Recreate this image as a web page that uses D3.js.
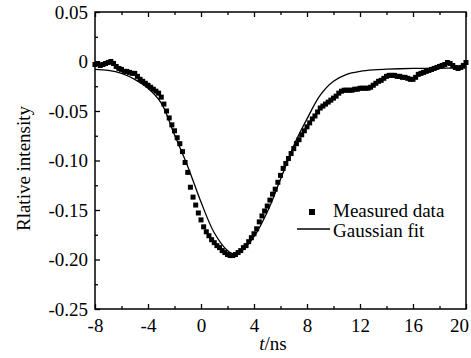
<!DOCTYPE html>
<html>
<head>
<meta charset="utf-8">
<script src="https://cdn.jsdelivr.net/npm/d3@7"></script>
<style>
  body { margin: 0; background: #fff; }
  svg text { font-family: "Liberation Serif", "Times New Roman", serif !important; fill: #000; }
</style>
</head>
<body>
<svg id="chart" width="471" height="358"></svg>
<script>
// sampling of the measured trace: every 0.2 ns starting at -8 ns
const tStart = -8;
const tStep = 0.2;
const measured = [
  -0.003, -0.002, -0.004, -0.003, -0.002, -0.001, 0.000, -0.002, -0.005, -0.007,
  -0.008, -0.010, -0.010, -0.011, -0.012, -0.012, -0.015, -0.018, -0.020, -0.022,
  -0.024, -0.026, -0.028, -0.030, -0.032, -0.036, -0.043, -0.050, -0.057, -0.064,
  -0.070, -0.077, -0.083, -0.091, -0.102, -0.112, -0.127, -0.137, -0.145, -0.153,
  -0.160, -0.167, -0.172, -0.176, -0.180, -0.183, -0.186, -0.188, -0.191, -0.193,
  -0.195, -0.196, -0.196, -0.195, -0.193, -0.191, -0.188, -0.186, -0.182, -0.178,
  -0.174, -0.169, -0.162, -0.156, -0.151, -0.146, -0.140, -0.134, -0.129, -0.122,
  -0.115, -0.108, -0.103, -0.098, -0.093, -0.088, -0.083, -0.079, -0.074, -0.070,
  -0.066, -0.062, -0.058, -0.055, -0.051, -0.047, -0.045, -0.043, -0.041, -0.039,
  -0.037, -0.035, -0.032, -0.030, -0.029, -0.029, -0.029, -0.029, -0.028, -0.028,
  -0.027, -0.027, -0.027, -0.027, -0.026, -0.024, -0.022, -0.020, -0.019, -0.017,
  -0.015, -0.014, -0.014, -0.014, -0.015, -0.015, -0.016, -0.016, -0.017, -0.018,
  -0.018, -0.016, -0.013, -0.012, -0.011, -0.010, -0.009, -0.008, -0.007, -0.006,
  -0.005, -0.004, -0.003, -0.001, -0.002, -0.004, -0.006, -0.007, -0.006, -0.004,
  -0.001
];

// Gaussian fit
const fitT = [-8, -7, -6, -5, -4, -3, -2, -1, 0, 1, 2, 2.6, 3, 4, 5, 6, 7, 8, 9, 10,
  11, 12, 13, 14, 15, 16, 17, 18, 19, 20];
const fitV = [-0.008, -0.009, -0.012, -0.018, -0.027, -0.042, -0.074, -0.106, -0.142,
  -0.173, -0.191, -0.195, -0.192, -0.177, -0.152, -0.119, -0.085, -0.058, -0.034,
  -0.020, -0.013, -0.010, -0.0085, -0.0078, -0.0073, -0.007, -0.007, -0.0068,
  -0.0067, -0.0066];

const xTicks = [-8, -4, 0, 4, 8, 12, 16, 20];
const xTickLabels = ["-8", "-4", "0", "4", "8", "12", "16", "20"];
const yTicks = [0.05, 0, -0.05, -0.10, -0.15, -0.20, -0.25];
const yTickLabels = ["0.05", "0", "-0.05", "-0.10", "-0.15", "-0.20", "-0.25"];
const legendLabels = ["Measured data", "Gaussian fit"];

const mLeft = 95, mRight = 466, mTop = 12, mBottom = 309;

const svg = d3.select("#chart");

const x = d3.scaleLinear().domain([-8, 20]).range([mLeft, mRight]);
const y = d3.scaleLinear().domain([-0.25, 0.05]).range([mBottom, mTop]);

// frame
svg.append("rect")
  .attr("x", mLeft).attr("y", mTop)
  .attr("width", mRight - mLeft).attr("height", mBottom - mTop)
  .attr("fill", "none").attr("stroke", "#000").attr("stroke-width", 1.5);

const xMinor = [-6, -2, 2, 6, 10, 14, 18];
const yMinor = [0.025, -0.025, -0.075, -0.125, -0.175, -0.225];

// bottom axis
const gx = svg.append("g").attr("transform", "translate(0," + mBottom + ")");
gx.call(d3.axisBottom(x).tickValues(xTicks).tickSizeInner(-5).tickSizeOuter(0).tickPadding(10)
  .tickFormat((d, i) => xTickLabels[i]));
gx.append("g").call(d3.axisBottom(x).tickValues(xMinor).tickSizeInner(-3).tickSizeOuter(0).tickFormat(""));
// last label sits a little left so it stays inside the page
gx.selectAll(".tick text").filter(d => d === 20).attr("dx", "-7");

// top axis ticks
const gt = svg.append("g").attr("transform", "translate(0," + mTop + ")");
gt.call(d3.axisTop(x).tickValues(xTicks).tickSizeInner(-5).tickSizeOuter(0).tickFormat(""));
gt.append("g").call(d3.axisTop(x).tickValues(xMinor).tickSizeInner(-3).tickSizeOuter(0).tickFormat(""));

// left axis
const gy = svg.append("g").attr("transform", "translate(" + mLeft + ",0)");
gy.call(d3.axisLeft(y).tickValues(yTicks).tickSizeInner(-5).tickSizeOuter(0).tickPadding(7)
  .tickFormat((d, i) => yTickLabels[i]));
gy.append("g").call(d3.axisLeft(y).tickValues(yMinor).tickSizeInner(-3).tickSizeOuter(0).tickFormat(""));

svg.selectAll(".domain").remove();
svg.selectAll("g").attr("font-family", null).attr("font-size", null);
svg.selectAll(".tick line").attr("stroke", "#000").attr("stroke-width", 1.3);
svg.selectAll(".tick text").style("font-size", "19px")
  .style("font-family", "'Liberation Serif', serif");

// x label
const xl = svg.append("text")
  .attr("x", 273).attr("y", 350)
  .attr("text-anchor", "middle").style("font-size", "19px");
xl.append("tspan").style("font-style", "italic").text("t");
xl.append("tspan").text("/ns");

// y label
svg.append("text")
  .attr("transform", "translate(30," + ((mTop + mBottom) / 2 + 8) + ") rotate(-90)")
  .attr("text-anchor", "middle").style("font-size", "19px")
  .text("Rlative intensity");

// fit curve
const fitData = fitT.map((t, i) => ({ t: t, v: fitV[i] }));
svg.append("path")
  .datum(fitData)
  .attr("fill", "none").attr("stroke", "#000").attr("stroke-width", 1.3)
  .attr("d", d3.line().x(d => x(d.t)).y(d => y(d.v)).curve(d3.curveCatmullRom));

// measured points
const sq = 5;
svg.append("g").selectAll("rect")
  .data(measured)
  .enter().append("rect")
  .attr("x", (d, i) => x(tStart + i * tStep) - sq / 2)
  .attr("y", d => y(d) - sq / 2)
  .attr("width", sq).attr("height", sq)
  .attr("fill", "#000");

// legend
const lg = svg.append("g");
lg.append("rect").attr("x", 309).attr("y", 209).attr("width", 6).attr("height", 6).attr("fill", "#000");
lg.append("text").attr("x", 333).attr("y", 217).style("font-size", "19px").text(legendLabels[0]);
lg.append("line").attr("x1", 297).attr("x2", 330).attr("y1", 229).attr("y2", 229)
  .attr("stroke", "#000").attr("stroke-width", 1.3);
lg.append("text").attr("x", 333).attr("y", 237).style("font-size", "19px").text(legendLabels[1]);
</script>
</body>
</html>
